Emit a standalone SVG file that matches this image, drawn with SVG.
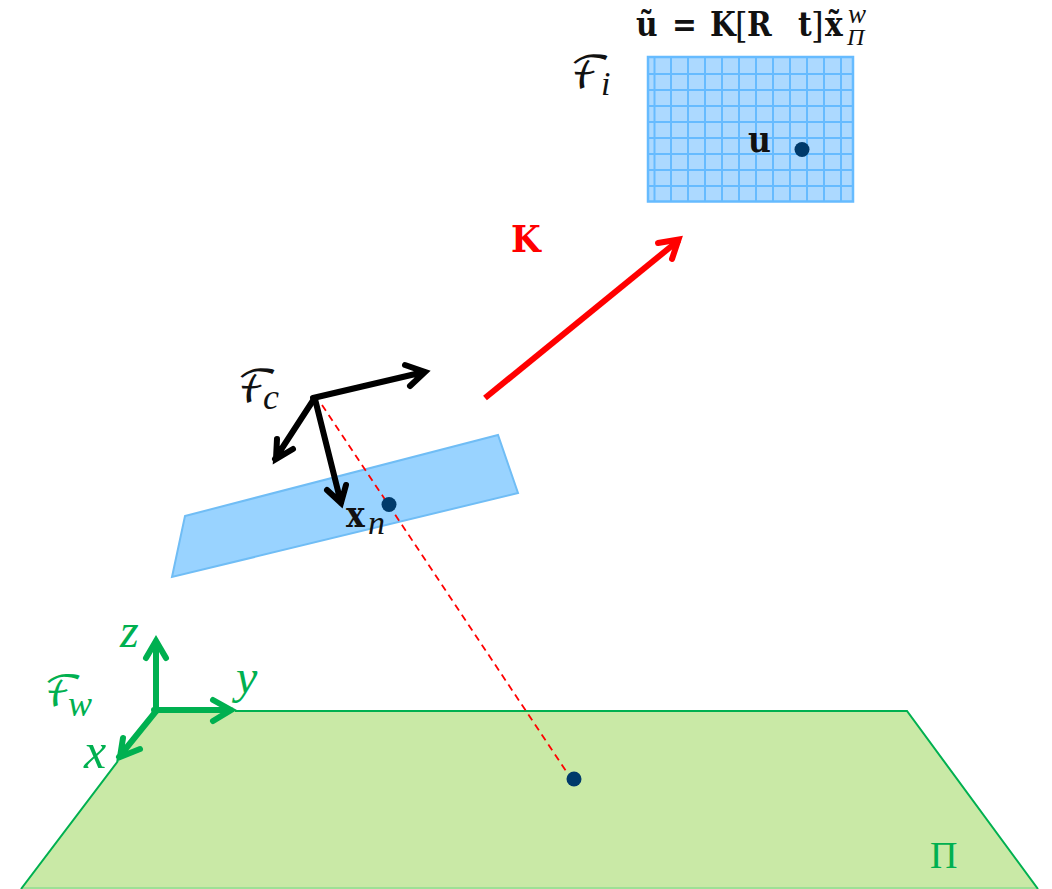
<svg xmlns="http://www.w3.org/2000/svg" width="1052" height="889" viewBox="0 0 1052 889">
<style>
.b{font-family:"DejaVu Serif Condensed","DejaVu Serif",serif;font-weight:bold;fill:#111}
.br{font-family:"DejaVu Serif Condensed","DejaVu Serif",serif;fill:#111}
.i{font-family:"Liberation Serif",serif;font-style:italic;fill:#111}
.s{font-family:"DejaVu Math TeX Gyre","DejaVu Sans",sans-serif;fill:#111}
.g{fill:#00b050}
.k{fill:none;stroke:#000;stroke-width:6;stroke-linecap:round;stroke-linejoin:miter}
.gr{fill:none;stroke:#00b050;stroke-width:6;stroke-linecap:round;stroke-linejoin:miter}
.dot{fill:#003a6b}
.grid{stroke:#66bbff;stroke-width:2;fill:none}
</style>
<rect width="1052" height="889" fill="#fff"/>
<g id="plane-world"><path d="M156 711H907L1038 889H21Z" fill="#c9e9a6"/><path d="M21 888H1038" stroke="#8fdc8f" stroke-width="1.500"/><path d="M21 889L118 761M235 711H907L1038 889" fill="none" stroke="#00b050" stroke-width="2"/></g>
<g id="plane-normalized"><path d="M185 516L498 435L518 493L172 577Z" fill="#99d3ff" stroke="#70bdf5" stroke-width="2"/></g>
<g id="image-plane">
<rect x="648" y="57" width="205" height="144.500" fill="#acd9ff" stroke="#66bbff" stroke-width="2.500"/>
<path class="grid" d="M654.500 57V201M671 57V201M688 57V201M705 57V201M722 57V201M739 57V201M756 57V201M773 57V201M790 57V201M807 57V201M824 57V201M841 57V201M648 74H853M648 90H853M648 106H853M648 122H853M648 138H853M648 154H853M648 170H853M648 186H853"/>
<circle class="dot" cx="802" cy="149.500" r="7.500"/>
<text class="b" x="748" y="152" font-size="35">u</text>
</g>
<g id="connectors">
<path d="M322 405L566 771" fill="none" stroke="#f00" stroke-width="1.800" stroke-dasharray="7 5"/>
<path d="M485 398L679 240" fill="none" stroke="#f00" stroke-width="6"/>
<path d="M658 243L678.500 239.500L672 259" fill="none" stroke="#f00" stroke-width="6" stroke-linecap="round"/>
<path class="k" d="M313 398L424 372M405 365L425 372L410 386"/>
<path class="k" d="M314 399L275 459M277 439L276 459L293 449"/>
<path class="k" d="M315 399L341 503M327 490L341 503L346 485"/>
<path class="gr" d="M156 711V641M146 658L156 641L166 658"/>
<path class="gr" d="M154 710H231M213 700L231 710L213 721"/>
<path class="gr" d="M157 710L119 757M123 738L120 757L140 749"/>
</g>
<g id="points"><circle class="dot" cx="389" cy="504.500" r="7.500"/><circle class="dot" cx="574" cy="779" r="7.500"/></g>
<g id="labels">
<text class="b" y="36" font-size="33"><tspan x="636">ũ</tspan><tspan x="672">=</tspan><tspan x="710">K</tspan><tspan x="747">R</tspan><tspan x="798">t</tspan><tspan x="825">x̃</tspan></text>
<text class="br" y="38" font-size="36"><tspan x="735">[</tspan><tspan x="811">]</tspan></text>
<text class="i" x="848" y="23" font-size="27">w</text>
<text class="i" x="847" y="45" font-size="24">Π</text>
<text class="s" x="570" y="88" font-size="44">ℱ<tspan class="i" x="601" y="95" font-size="34">i</tspan></text>
<text x="511" y="252" font-size="38" font-weight="bold" fill="#f00" style="font-family:'DejaVu Serif Condensed',serif">K</text>
<text class="s" x="237" y="402" font-size="44">ℱ<tspan class="i" x="263" y="409" font-size="36">c</tspan></text>
<text class="b" x="346" y="527" font-size="35">x<tspan class="i" x="368" y="534" font-size="34" font-weight="normal">n</tspan></text>
<text class="s g" x="44" y="706" font-size="42">ℱ<tspan class="i g" x="68" y="716" font-size="36">w</tspan></text>
<text class="i g" x="120" y="647" font-size="48">z</text>
<text class="i g" x="236" y="693" font-size="48">y</text>
<text class="i g" x="84" y="768" font-size="50">x</text>
<text x="930" y="868" font-size="38" fill="#00b050" style="font-family:'Liberation Serif',serif">Π</text>
</g>
</svg>
